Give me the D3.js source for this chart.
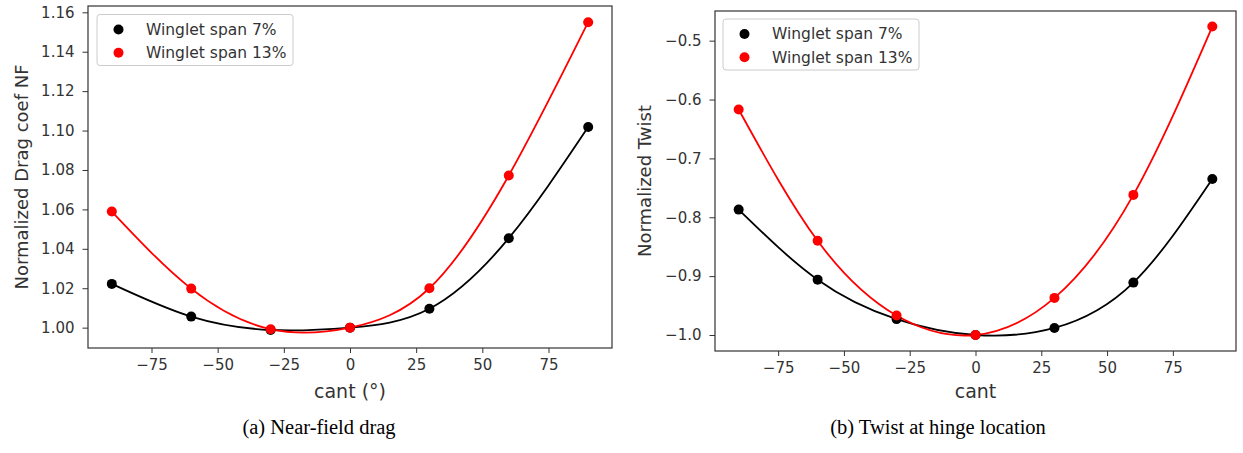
<!DOCTYPE html>
<html><head><meta charset="utf-8">
<script src="https://cdn.jsdelivr.net/npm/d3@7"></script>
<style>
body{margin:0;background:#fff;}
text{font-family:"DejaVu Sans",sans-serif;}
</style></head>
<body><svg id="c" width="1243" height="453"></svg>
<script>
const cant = [-90, -60, -30, 0, 30, 60, 90];
const dragSpan7 = [1.0222, 1.0056, 0.9988, 1.0000, 1.0096, 1.0454, 1.1018];
const dragSpan13 = [1.0589, 1.0198, 0.9992, 1.0000, 1.0200, 1.0772, 1.1550];
const twistSpan7 = [-0.787, -0.906, -0.973, -1.000, -0.988, -0.911, -0.735];
const twistSpan13 = [-0.617, -0.840, -0.967, -1.000, -0.937, -0.762, -0.476];
const seriesNames = ["Winglet span 7%", "Winglet span 13%"];
const seriesColors = ["#000000", "#ff0000"];
const xTicks = [-75, -50, -25, 0, 25, 50, 75];
const dragTicks = [1.00, 1.02, 1.04, 1.06, 1.08, 1.10, 1.12, 1.14, 1.16];
const twistTicks = [-1.0, -0.9, -0.8, -0.7, -0.6, -0.5];

const svg = d3.select("#c");

function panel(opt){
  const g = svg.append("g");
  const x = d3.scaleLinear().domain([-99, 99]).range([opt.left, opt.right]);
  const y = d3.scaleLinear().domain(opt.ydom).range([opt.bottom, opt.top]);
  const xa = g.append("g").attr("transform",`translate(0,${opt.bottom})`)
    .call(d3.axisBottom(x).tickValues(xTicks).tickSize(5).tickPadding(6).tickFormat(d=>d3.format("d")(d).replace("-","\u2212")));
  const ya = g.append("g").attr("transform",`translate(${opt.left},0)`)
    .call(d3.axisLeft(y).tickValues(opt.yticks).tickSize(5.5).tickPadding(8).tickFormat(d=>d3.format(opt.yfmt)(d).replace("-","\u2212")));
  [xa,ya].forEach(a=>{
    a.select(".domain").remove();
    a.selectAll("line").attr("stroke","#333").attr("stroke-width",1);
    a.selectAll("text").attr("fill","#333").style("font-size","15px").style("font-family","DejaVu Sans");
  });
  g.append("rect").attr("x",opt.left).attr("y",opt.top).attr("width",opt.right-opt.left).attr("height",opt.bottom-opt.top)
    .attr("fill","none").attr("stroke","#333").attr("stroke-width",1.2);
  const line = d3.line().x((d,i)=>x(cant[i])).y(d=>y(d)).curve(d3.curveNatural);
  opt.series.forEach((s,k)=>{
    g.append("path").datum(s).attr("d",line).attr("fill","none").attr("stroke",seriesColors[k]).attr("stroke-width",1.8);
  });
  opt.series.forEach((s,k)=>{
    g.selectAll(null).data(s).enter().append("circle")
      .attr("cx",(d,i)=>x(cant[i])).attr("cy",d=>y(d)).attr("r",5).attr("fill",seriesColors[k]);
  });
  const lg = g.append("g").attr("transform",`translate(${opt.legX},${opt.legY})`);
  lg.append("rect").attr("width",196).attr("height",51).attr("rx",3).attr("fill","#fff").attr("fill-opacity",0.8).attr("stroke","#ccc");
  seriesNames.forEach((n,k)=>{
    lg.append("circle").attr("cx",21.5).attr("cy",15+k*23.3).attr("r",5).attr("fill",seriesColors[k]);
    lg.append("text").attr("x",49).attr("y",15+k*23.3).attr("dy","0.35em").attr("fill","#333").style("font-size","15.5px").text(n);
  });
  g.append("text").attr("transform",`translate(${opt.ylabX},${(opt.top+opt.bottom)/2}) rotate(-90)`)
    .attr("text-anchor","middle").attr("dy","0.35em").attr("fill","#333").style("font-size","18px").text(opt.ylabel);
  g.append("text").attr("x",x(0)).attr("y",398).attr("text-anchor","middle")
    .attr("fill","#333").style("font-size","19px").text(opt.xlabel);
  g.append("text").attr("x",opt.capX).attr("y",434).attr("text-anchor","middle")
    .attr("fill","#000").style("font-family","Liberation Serif").style("font-size","20.5px").text(opt.caption);
}

panel({left:88,right:612,top:6,bottom:348,ydom:[0.98967,1.16320],yticks:dragTicks,yfmt:".2f",
  series:[dragSpan7,dragSpan13],legX:97,legY:14.5,ylabX:22,ylabel:"Normalized Drag coef NF",xlabel:"cant (\u00b0)",
  capX:319,caption:"(a) Near-field drag"});
panel({left:715,right:1236,top:11,bottom:351,ydom:[-1.0272,-0.4496],yticks:twistTicks,yfmt:".1f",
  series:[twistSpan7,twistSpan13],legX:723,legY:19,ylabX:645,ylabel:"Normalized Twist",xlabel:"cant",
  capX:938,caption:"(b) Twist at hinge location"});
</script></body></html>
